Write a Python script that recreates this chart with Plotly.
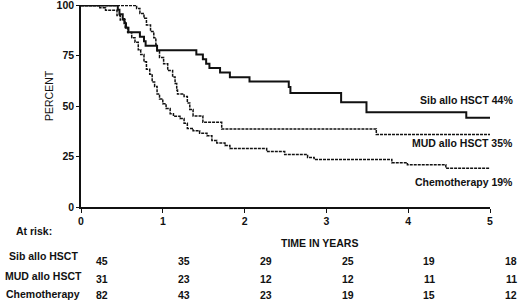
import plotly.graph_objects as go

# ---- data ----
sib_t = [0, 0.45, 0.47, 0.51, 0.53, 0.55, 0.58, 0.72, 0.77, 0.79, 0.93, 1.41, 1.49, 1.53, 1.57,
         1.70, 1.82, 2.06, 2.54, 2.56, 3.18, 3.49, 4.71, 5.0]
sib_s = [100, 97.8, 95.6, 93.3, 91.1, 88.9, 86.7, 84.4, 82.2, 80.0, 77.8, 75.6, 73.3, 71.1, 68.9,
         66.7, 64.4, 62.2, 59.5, 56.5, 52.0, 47.0, 44.3, 44.3]

mud_t = [0, 0.68, 0.72, 0.77, 0.80, 0.85, 0.89, 0.915, 0.93, 0.96, 1.01, 1.06, 1.12, 1.15, 1.17,
         1.18, 1.26, 1.30, 1.33, 1.37, 1.49, 1.72, 3.61, 5.0]
mud_s = [100, 98.5, 96.0, 93.6, 90.3, 87.0, 83.9, 80.6, 77.4, 74.2, 71.0, 67.7, 64.5, 61.3, 58.0,
         56.0, 54.8, 51.6, 48.4, 45.2, 42.0, 38.7, 36.0, 36.0]

chemo_t = [0, 0.23, 0.30, 0.44, 0.48, 0.54, 0.57, 0.62, 0.66, 0.70, 0.73, 0.77, 0.80, 0.84, 0.87,
           0.90, 0.93, 0.96, 1.00, 1.04, 1.09, 1.13, 1.21, 1.26, 1.30, 1.37, 1.45, 1.54, 1.60,
           1.66, 1.76, 1.82, 2.27, 2.49, 2.77, 2.85, 3.80, 3.99, 4.46, 5.0]
chemo_s = [100, 98.8, 97.6, 95.0, 92.7, 89.0, 86.6, 84.0, 81.7, 78.0, 75.6, 72.0, 68.3, 65.9, 62.0,
           59.8, 56.0, 53.6, 51.2, 48.8, 46.3, 45.0, 43.9, 41.5, 39.0, 37.8, 36.6, 35.3, 33.0,
           31.7, 30.5, 29.0, 27.5, 26.0, 24.6, 23.6, 22.0, 21.0, 19.2, 19.2]

groups = ["Sib allo HSCT", "MUD allo HSCT", "Chemotherapy"]
curve_labels = ["Sib allo HSCT 44%", "MUD allo HSCT 35%", "Chemotherapy 19%"]
risk_times = [0, 1, 2, 3, 4, 5]
at_risk = {
    "Sib allo HSCT": [45, 35, 29, 25, 19, 18],
    "MUD allo HSCT": [31, 23, 12, 12, 11, 11],
    "Chemotherapy": [82, 43, 23, 19, 15, 12],
}
x_ticks = [0, 1, 2, 3, 4, 5]
y_ticks = [0, 25, 50, 75, 100]

# ---- figure ----
W, H = 520, 301
L, R, T, B = 81, 30, 5, 94
PW, PH = W - L - R, H - T - B
XMAX = 5.0


def px(x):
    return (x - L) / PW


def py(y):
    return (H - B - y) / PH


def tx(t):
    # data time -> paper x
    return t / XMAX


FONT = "Liberation Sans, Arial, sans-serif"
INK = "#111111"
FS = 10.5

fig = go.Figure()
fig.add_trace(go.Scatter(x=sib_t, y=sib_s, mode="lines", line_shape="hv",
                         line=dict(color=INK, width=2), cliponaxis=False, name=groups[0]))
fig.add_trace(go.Scatter(x=mud_t, y=mud_s, mode="lines", line_shape="hv",
                         line=dict(color=INK, width=1.5, dash="3px,1px"), cliponaxis=False, name=groups[1]))
fig.add_trace(go.Scatter(x=chemo_t, y=chemo_s, mode="lines", line_shape="hv",
                         line=dict(color=INK, width=1.5, dash="3px,1px"), cliponaxis=False, name=groups[2]))

ann = []
bold = dict(family=FONT, size=FS, color=INK, weight="bold")
common = dict(showarrow=False, xanchor="center", yanchor="middle", xref="paper", yref="paper")
ann.append(dict(text="PERCENT", x=px(49), y=py(96), textangle=-90,
                font=dict(family=FONT, size=10.5, color=INK), **common))
ann.append(dict(text="TIME IN YEARS", x=px(319), y=py(243), font=bold, **common))
ann.append(dict(text="At risk:", x=px(34), y=py(231), font=bold, **common))
row_y = [(256, 261), (276, 279), (294, 295)]
for g, (ly, ny) in zip(groups, row_y):
    ann.append(dict(text=g, x=px(43), y=py(ly), font=bold, **common))
    for t, n in zip(risk_times, at_risk[g]):
        ann.append(dict(text=str(n), x=tx(t + 0.26), y=py(ny), font=bold, **common))
for lab, ly in zip(curve_labels, [100, 143, 182]):
    ann.append(dict(text=lab, x=px(515), y=py(ly), xref="paper", yref="paper",
                    xanchor="right", yanchor="middle", showarrow=False, font=bold))

fig.update_layout(
    width=W, height=H, margin=dict(l=L, r=R, t=T, b=B, autoexpand=False),
    paper_bgcolor="white", plot_bgcolor="white", showlegend=False,
    annotations=ann,
    xaxis=dict(range=[0, XMAX], tickvals=x_ticks, showgrid=False, zeroline=False,
               showline=True, linecolor=INK, linewidth=1.5, ticks="outside", ticklen=4,
               tickcolor=INK, tickfont=bold, ticklabeloverflow="allow", automargin=False),
    yaxis=dict(range=[0, 100.2], tickvals=y_ticks, showgrid=False, zeroline=False,
               showline=True, linecolor=INK, linewidth=1.5, ticks="outside", ticklen=3,
               tickcolor=INK, tickfont=bold, ticklabeloverflow="allow", automargin=False),
)
fig.write_html("out.html", config={"displayModeBar": False},
               post_script="document.body.style.margin='0';")
